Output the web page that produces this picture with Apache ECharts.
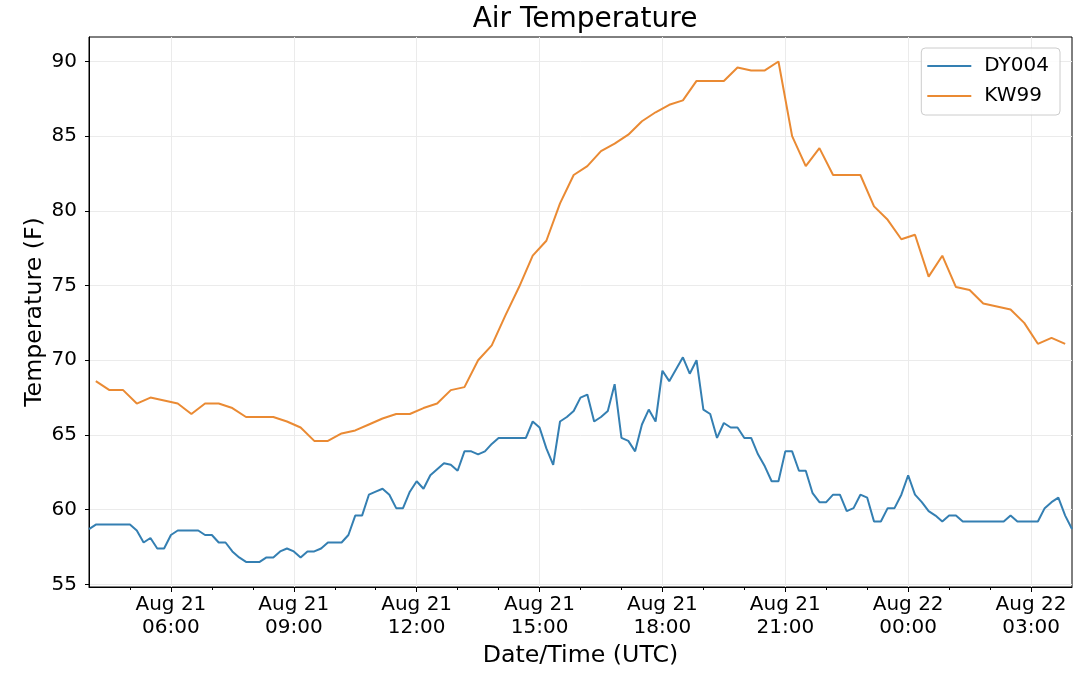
<!DOCTYPE html>
<html>
<head>
<meta charset="utf-8">
<title>Air Temperature</title>
<script src="https://cdn.jsdelivr.net/npm/echarts@6.0.0/dist/echarts.min.js"></script>
<style>
    html, body { margin: 0; padding: 0; background: #fff; }
    #main { width: 1080px; height: 673px; }
</style>
</head>
<body>
<div id="main"></div>
<script>
// DY004: one reading every 10 minutes from Aug 21 04:00 UTC
var dyStart = Date.UTC(2017, 7, 21, 4, 0);
var dyStep = 10 * 60 * 1000;
var dy004 = [
    58.7, 59.0, 59.0, 59.0, 59.0, 59.0, 59.0, 58.6, 57.8, 58.1,
    57.4, 57.4, 58.3, 58.6, 58.6, 58.6, 58.6, 58.3, 58.3, 57.8,
    57.8, 57.2, 56.8, 56.5, 56.5, 56.5, 56.8, 56.8, 57.2, 57.4,
    57.2, 56.8, 57.2, 57.2, 57.4, 57.8, 57.8, 57.8, 58.3, 59.6,
    59.6, 61.0, 61.2, 61.4, 61.0, 60.1, 60.1, 61.2, 61.9, 61.4,
    62.3, 62.7, 63.1, 63.0, 62.6, 63.9, 63.9, 63.7, 63.9, 64.4,
    64.8, 64.8, 64.8, 64.8, 64.8, 65.9, 65.5, 64.1, 63.0, 65.9,
    66.2, 66.6, 67.5, 67.7, 65.9, 66.2, 66.6, 68.4, 64.8, 64.6,
    63.9, 65.7, 66.7, 65.9, 69.3, 68.6, 69.4, 70.2, 69.1, 70.0,
    66.7, 66.4, 64.8, 65.8, 65.5, 65.5, 64.8, 64.8, 63.7, 62.9,
    61.9, 61.9, 63.9, 63.9, 62.6, 62.6, 61.1, 60.5, 60.5, 61.0,
    61.0, 59.9, 60.1, 61.0, 60.8, 59.2, 59.2, 60.1, 60.1, 61.0,
    62.3, 61.0, 60.5, 59.9, 59.6, 59.2, 59.6, 59.6, 59.2, 59.2,
    59.2, 59.2, 59.2, 59.2, 59.2, 59.6, 59.2, 59.2, 59.2, 59.2,
    60.1, 60.5, 60.8, 59.6, 58.7
];

// KW99: one reading every 20 minutes from Aug 21 04:10 UTC
var kwStart = Date.UTC(2017, 7, 21, 4, 10);
var kwStep = 20 * 60 * 1000;
var kw99 = [
    68.6, 68.0, 68.0, 67.1, 67.5, 67.3, 67.1, 66.4, 67.1, 67.1,
    66.8, 66.2, 66.2, 66.2, 65.9, 65.5, 64.6, 64.6, 65.1, 65.3,
    65.7, 66.1, 66.4, 66.4, 66.8, 67.1, 68.0, 68.2, 70.0, 71.0,
    73.0, 74.9, 77.0, 78.0, 80.5, 82.4, 83.0, 84.0, 84.5, 85.1,
    86.0, 86.6, 87.1, 87.4, 88.7, 88.7, 88.7, 89.6, 89.4, 89.4,
    90.0, 85.0, 83.0, 84.2, 82.4, 82.4, 82.4, 80.3, 79.4, 78.1,
    78.4, 75.6, 77.0, 74.9, 74.7, 73.8, 73.6, 73.4, 72.5, 71.1,
    71.5, 71.1
];

var xMin = Date.UTC(2017, 7, 21, 4, 0);
var xMax = Date.UTC(2017, 7, 22, 4, 0);
var xTickHours = [6, 9, 12, 15, 18, 21, 24, 27];
var yTicks = [55, 60, 65, 70, 75, 80, 85, 90];
var yMin = 54.82;
var yMax = 91.64;

var xTicks = xTickHours.map(function (h) { return Date.UTC(2017, 7, 21, h, 0); });
var xMinorTicks = [];
for (var h = 5; h <= 27; h++) {
    xMinorTicks.push(Date.UTC(2017, 7, 21, h, 0));
}

function toPairs(start, step, values) {
    var out = [];
    for (var i = 0; i < values.length; i++) {
        out.push([start + i * step, values[i]]);
    }
    return out;
}

function pad(n) {
    return n < 10 ? '0' + n : '' + n;
}

var font = 'DejaVu Sans';
var gridColor = '#ebebeb';

var myChart = echarts.init(document.getElementById('main'));

var option = {
    animation: false,
    backgroundColor: '#fff',
    color: ['#347fb2', '#ea8a33'],
    title: {
        text: 'Air Temperature',
        left: 580,
        top: 1,
        textAlign: 'center',
        textStyle: { fontFamily: font, fontSize: 28, fontWeight: 'normal', color: '#000' }
    },
    legend: {
        data: ['DY004', 'KW99'],
        orient: 'vertical',
        right: 20,
        top: 48,
        itemWidth: 44,
        itemHeight: 2,
        itemGap: 10,
        icon: 'rect',
        padding: [8, 11, 9, 6],
        backgroundColor: 'rgba(255,255,255,0.85)',
        borderColor: '#cccccc',
        borderWidth: 1,
        borderRadius: 4,
        textStyle: { fontFamily: font, fontSize: 20, color: '#000', padding: [0, 0, 0, 8] }
    },
    grid: {
        left: 89,
        right: 8,
        top: 37,
        bottom: 86,
        show: true,
        borderColor: '#000',
        borderWidth: 1,
        containLabel: false
    },
    xAxis: [
        {
            type: 'value',
            min: xMin,
            max: xMax,
            name: 'Date/Time (UTC)',
            nameLocation: 'middle',
            nameGap: 57,
            nameMoveOverlap: false,
            nameTextStyle: { fontFamily: font, fontSize: 23.7, color: '#000' },
            axisLine: { lineStyle: { color: '#000', width: 1 } },
            axisTick: { customValues: xTicks, length: 5, lineStyle: { color: '#000' } },
            axisLabel: {
                customValues: xTicks,
                fontFamily: font,
                fontSize: 20,
                lineHeight: 23,
                color: '#000',
                margin: 6,
                formatter: function (v) {
                    var d = new Date(v);
                    return 'Aug ' + d.getUTCDate() + '\n' + pad(d.getUTCHours()) + ':00';
                }
            },
            splitLine: { show: true, lineStyle: { color: gridColor, width: 1 } }
        },
        {
            // hourly minor ticks
            type: 'value',
            min: xMin,
            max: xMax,
            position: 'bottom',
            axisLine: { show: false },
            axisTick: { customValues: xMinorTicks, length: 3, lineStyle: { color: '#000' } },
            axisLabel: { show: false },
            splitLine: { show: false }
        }
    ],
    yAxis: {
        type: 'value',
        min: yMin,
        max: yMax,
        name: 'Temperature (F)',
        nameLocation: 'middle',
        nameGap: 42,
        nameMoveOverlap: false,
        nameTextStyle: { fontFamily: font, fontSize: 23.7, color: '#000' },
        axisLine: { show: true, lineStyle: { color: '#000', width: 1 } },
        axisTick: { show: true, customValues: yTicks, length: 4, lineStyle: { color: '#000' } },
        axisLabel: {
            customValues: yTicks,
            fontFamily: font,
            fontSize: 20,
            color: '#000',
            margin: 12
        },
        splitLine: { show: true, lineStyle: { color: gridColor, width: 1 } }
    },
    series: [
        {
            name: 'DY004',
            type: 'line',
            showSymbol: false,
            lineStyle: { width: 2 },
            data: toPairs(dyStart, dyStep, dy004)
        },
        {
            name: 'KW99',
            type: 'line',
            showSymbol: false,
            lineStyle: { width: 2 },
            data: toPairs(kwStart, kwStep, kw99)
        }
    ]
};

myChart.setOption(option);
</script>
</body>
</html>
